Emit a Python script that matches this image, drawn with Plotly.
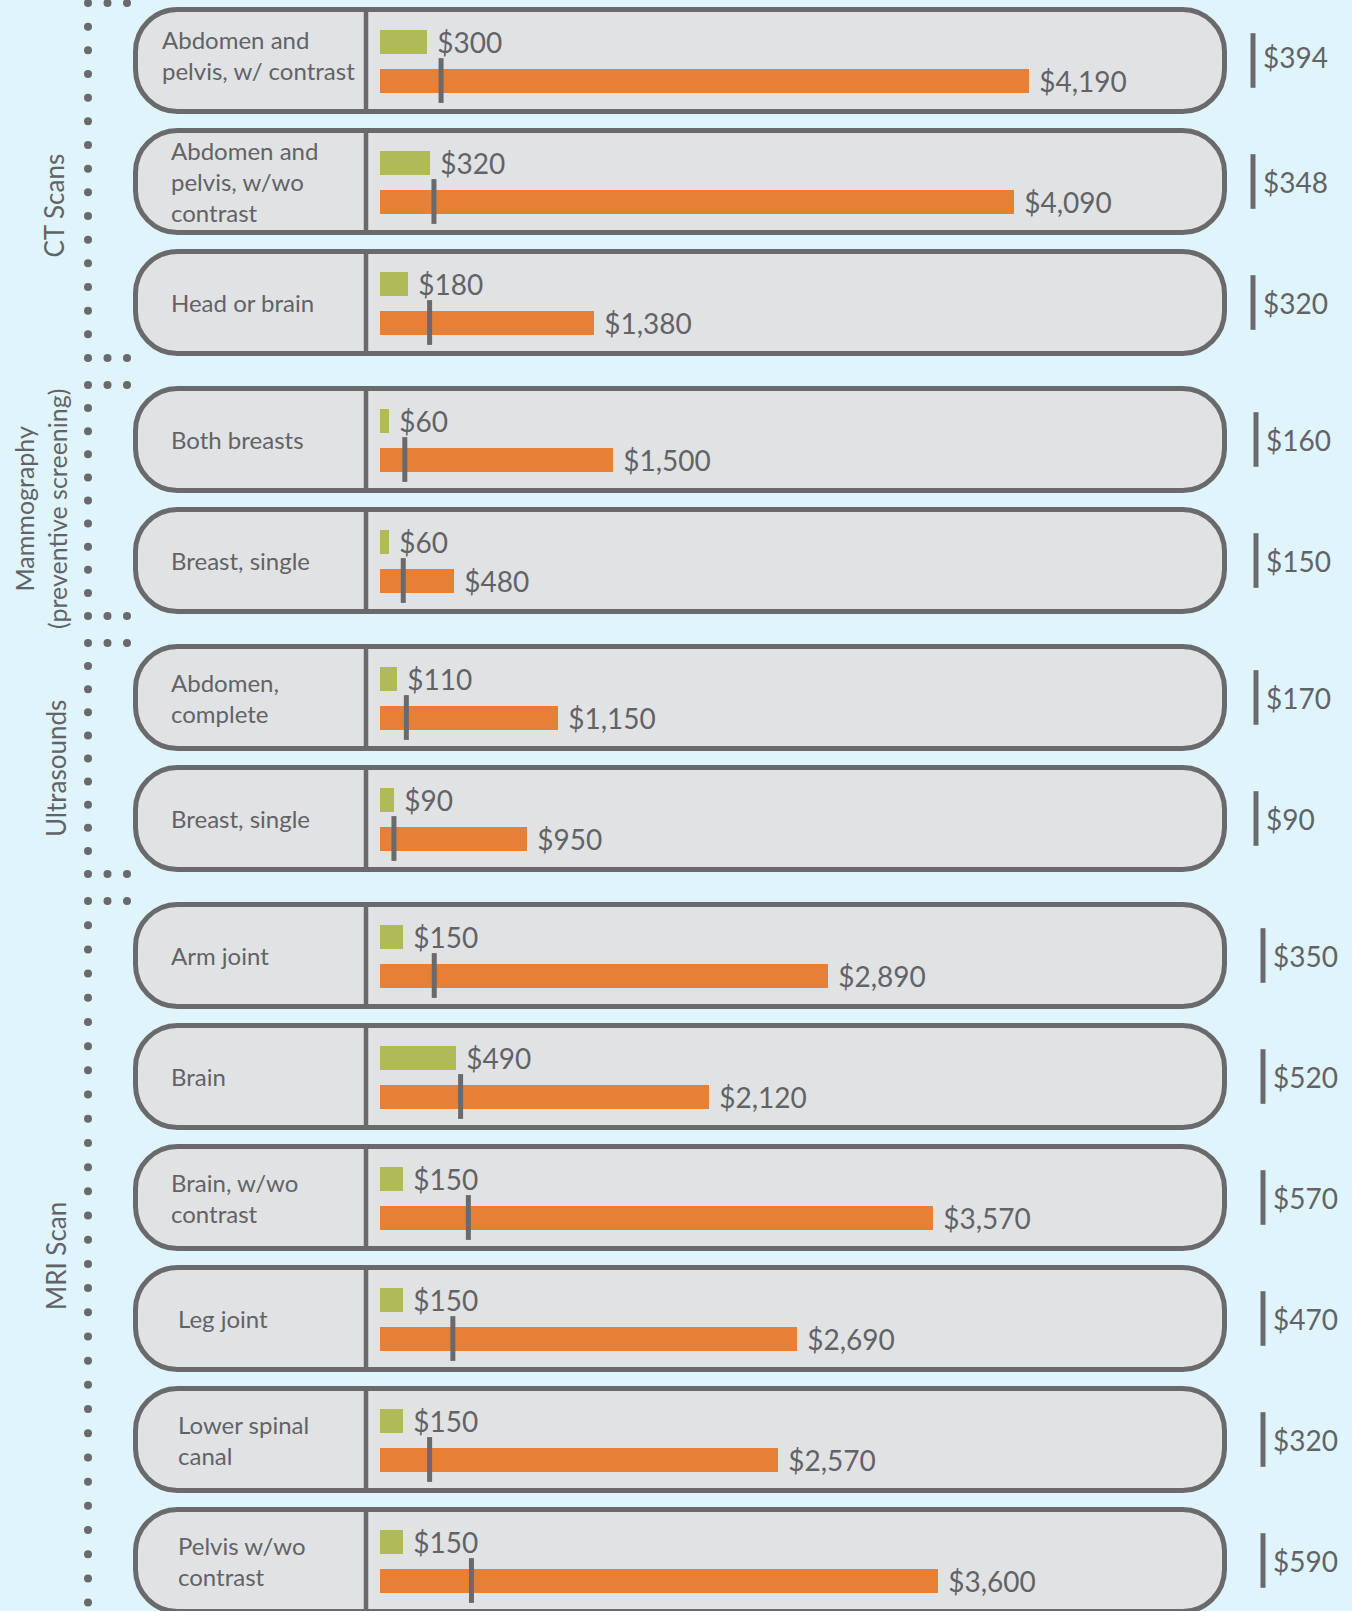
import numpy as np
import plotly.graph_objects as go

# ---------------- data ----------------
groups = ["CT Scans", "Mammography<br>(preventive screening)", "Ultrasounds", "MRI Scan"]
group_sizes = [3, 2, 2, 6]
procedures = [
    "Abdomen and<br>pelvis, w/ contrast",
    "Abdomen and<br>pelvis, w/wo<br>contrast",
    "Head or brain",
    "Both breasts",
    "Breast, single",
    "Abdomen,<br>complete",
    "Breast, single",
    "Arm joint",
    "Brain",
    "Brain, w/wo<br>contrast",
    "Leg joint",
    "Lower spinal<br>canal",
    "Pelvis w/wo<br>contrast",
]
low_price = [300, 320, 180, 60, 60, 110, 90, 150, 490, 150, 150, 150, 150]
high_price = [4190, 4090, 1380, 1500, 480, 1150, 950, 2890, 2120, 3570, 2690, 2570, 3600]
fair_price = [394, 348, 320, 160, 150, 170, 90, 350, 520, 570, 470, 320, 590]

# ---------------- style / layout ----------------
W, H = 1352, 1611
BG = "#e0f4fc"
BOX = "#e1e2e4"
GRAY = "#6a6a6d"
TXT = "#626366"
GREEN = "#b0bb58"
ORANGE = "#e68037"
FONT = "Lato"

pitch, gap_extra, first_c = 121, 16, 60.5
centers = []
c = first_c
for gi, n in enumerate(group_sizes):
    for j in range(n):
        centers.append(c)
        c += pitch
    c += gap_extra
centers = np.array(centers)

bar_x0 = 380          # pixel where bars start
px_per_dollar = 0.155
x_max = (W - bar_x0) / px_per_dollar

label_x = [160, 169, 169, 169, 169, 169, 169, 169, 169, 169, 176, 176, 176]
label_dy = [-6, 0, 0, 0, 0, 0, 0, 0, 0, 0, 0, 0, 0]
right_x_by_group = [1253, 1256, 1256, 1263]
group_label_dy = [24, 9, 11, -2]
group_label_x = [53, 40, 56, 56]

fig = go.Figure()

# ---- pixel-space decorations (xaxis 'x') ----
group_of_row = []
for gi, n in enumerate(group_sizes):
    group_of_row += [gi] * n
right_x = [right_x_by_group[g] for g in group_of_row]
fig.add_trace(go.Scatter(
    x=right_x, y=centers, xaxis="x", yaxis="y", mode="markers",
    marker=dict(symbol="line-ns", size=39, line=dict(width=5, color=GRAY), color=GRAY),
    hoverinfo="skip", showlegend=False, cliponaxis=False,
))

dot_x, dot_y = [], []
idx = 0
for gi, n in enumerate(group_sizes):
    first, last = centers[idx], centers[idx + n - 1]
    top = 3 if gi == 0 else (centers[idx - 1] + first) / 2 + 14
    bottom = H + 40 if gi == len(group_sizes) - 1 else (last + centers[idx + n]) / 2 - 13
    idx += n
    nseg = int(round((bottom - top) / 24.3))
    for yy in np.linspace(top, bottom, nseg + 1):
        dot_x.append(88); dot_y.append(yy)
    for xx in (107.5, 127):
        dot_x.append(xx); dot_y.append(top)
        if gi != len(group_sizes) - 1:
            dot_x.append(xx); dot_y.append(bottom)
fig.add_trace(go.Scatter(
    x=dot_x, y=dot_y, xaxis="x", yaxis="y", mode="markers",
    marker=dict(size=8, color=GRAY), hoverinfo="skip", showlegend=False, cliponaxis=False,
))

# ---- dollar-space bars (xaxis 'x2') ----
fig.add_trace(go.Bar(
    orientation="h", x=low_price, y=centers - 19, width=24, xaxis="x2", yaxis="y",
    marker=dict(color=GREEN, line=dict(width=0)),
    texttemplate=" $%{x:,}", textposition="outside", constraintext="none",
    outsidetextfont=dict(family=FONT, size=28, color=TXT),
    cliponaxis=False, hoverinfo="skip", showlegend=False,
))
fig.add_trace(go.Bar(
    orientation="h", x=high_price, y=centers + 20, width=24, xaxis="x2", yaxis="y",
    marker=dict(color=ORANGE, line=dict(width=0)),
    texttemplate=" $%{x:,}", textposition="outside", constraintext="none",
    outsidetextfont=dict(family=FONT, size=28, color=TXT),
    cliponaxis=False, hoverinfo="skip", showlegend=False,
))
fig.add_trace(go.Scatter(
    x=fair_price, y=centers + 20, xaxis="x2", yaxis="y", mode="markers",
    marker=dict(symbol="line-ns", size=32, line=dict(width=5, color=GRAY), color=GRAY),
    hoverinfo="skip", showlegend=False, cliponaxis=False,
))

# boxes
def rrect(x0, y0, x1, y1, r):
    k = 0.5523 * r
    return (f"M{x0+r},{y0} L{x1-r},{y0} C{x1-r+k},{y0} {x1},{y0+r-k} {x1},{y0+r} "
            f"L{x1},{y1-r} C{x1},{y1-r+k} {x1-r+k},{y1} {x1-r},{y1} "
            f"L{x0+r},{y1} C{x0+r-k},{y1} {x0},{y1-r+k} {x0},{y1-r} "
            f"L{x0},{y0+r} C{x0},{y0+r-k} {x0+r-k},{y0} {x0+r},{y0} Z")

shapes = []
for cc in centers:
    shapes.append(dict(type="path", path=rrect(135.5, cc - 51, 1224.5, cc + 51, 42),
                       xref="x", yref="y", fillcolor=BOX, line=dict(color=GRAY, width=5),
                       layer="below"))
    shapes.append(dict(type="line", x0=366, x1=366, y0=cc - 51, y1=cc + 51,
                       xref="x", yref="y", line=dict(color=GRAY, width=4.5), layer="below"))

annotations = []
for i, cc in enumerate(centers):
    annotations.append(dict(x=label_x[i], y=cc + label_dy[i], xref="x", yref="y",
                            text=procedures[i], showarrow=False, xanchor="left",
                            yanchor="middle", align="left",
                            font=dict(family=FONT, size=24, color=TXT)))
    annotations.append(dict(x=right_x[i] + 8, y=cc - (4 if i == 0 else 0), xref="x", yref="y",
                            text=f"${fair_price[i]:,}", showarrow=False, xanchor="left",
                            yanchor="middle", font=dict(family=FONT, size=28, color=TXT)))

idx = 0
for gi, n in enumerate(group_sizes):
    mid = (centers[idx] + centers[idx + n - 1]) / 2 + group_label_dy[gi]
    idx += n
    annotations.append(dict(x=group_label_x[gi], y=mid, xref="x", yref="y", text=groups[gi],
                            showarrow=False, textangle=-90, xanchor="center", yanchor="middle",
                            font=dict(family=FONT, size=26 if gi != 1 else 25, color=TXT)))

fig.update_layout(
    width=W, height=H, margin=dict(l=0, r=0, t=0, b=0),
    paper_bgcolor=BG, plot_bgcolor="rgba(0,0,0,0)", barmode="overlay", bargap=0,
    xaxis=dict(domain=[0, 1], range=[0, W], visible=False, fixedrange=True, anchor="y"),
    xaxis2=dict(domain=[bar_x0 / W, 1], range=[0, x_max], visible=False, fixedrange=True,
                anchor="y"),
    yaxis=dict(domain=[0, 1], range=[H, 0], visible=False, fixedrange=True, anchor="x"),
    shapes=shapes, annotations=annotations, showlegend=False,
)

fig.write_html("out.html", config={"displayModeBar": False},
               post_script="document.body.style.margin='0';document.body.style.overflow='hidden';")
